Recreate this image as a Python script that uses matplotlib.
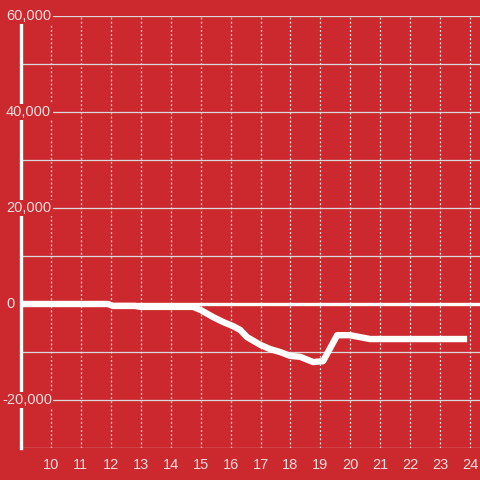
import matplotlib
matplotlib.use("Agg")
import matplotlib.pyplot as plt
import matplotlib.transforms as mtransforms

# hours of the day and value
hours = [9.0, 11.9, 12.07, 12.8, 13.0, 14.75, 15.0, 15.41, 15.75, 16.08, 16.32,
         16.55, 16.99, 17.32, 17.65, 17.99, 18.32, 18.76, 19.09, 19.56, 19.99,
         20.66, 23.9]
values = [0, 0, -400, -400, -600, -600, -1250, -2700, -3750, -4600, -5400,
          -6900, -8500, -9400, -10000, -10800, -11000, -12100, -11900, -6500,
          -6500, -7300, -7300]

x_ticks = list(range(10, 25))
y_ticks = [-20000, 0, 20000, 40000, 60000]
y_grid = list(range(-30000, 60001, 10000))

bg = '#cc292e'
plt.rcParams['font.family'] = ['Liberation Sans', 'DejaVu Sans']

fig = plt.figure(figsize=(4.8, 4.8), dpi=100, facecolor=bg)
ax = fig.add_axes([21 / 480, 32 / 480, 1 - 21 / 480, 432 / 480])
ax.set_facecolor(bg)

ax.set_xlim(9, 24.33)
ax.set_ylim(-30000, 60000)

# grid
for g in y_grid:
    ax.axhline(g, color='#d9d9d9', lw=0.9, zorder=1)
for t in x_ticks:
    ax.axvline(t, color='#e6e6e6', lw=0.9, ls=(0, (1.5, 1.8)), zorder=1)

# zero line
ax.axhline(0, color='white', lw=2.4, zorder=2)

# data line
ax.plot(hours, values, color='white', lw=4.6, solid_joinstyle='round',
        solid_capstyle='butt', zorder=4)

for s in ['top', 'right', 'bottom']:
    ax.spines[s].set_visible(False)
ax.spines['left'].set_color('white')
ax.spines['left'].set_linewidth(2.4)

ax.set_xticks(x_ticks)
ax.set_xticklabels([str(t) for t in x_ticks])
ax.tick_params(axis='x', length=0, pad=7, labelsize=10.5, colors='#f2dede')
ax.set_yticks([])

trans = mtransforms.blended_transform_factory(fig.transFigure, ax.transData)
for v in y_ticks:
    ax.text(6 / 480 if v >= 0 else 2 / 480, v, f'{v:,}',
            transform=trans, ha='left', va='center', fontsize=10.5,
            color='#f2dede', zorder=6, clip_on=False,
            bbox=dict(facecolor=bg, edgecolor='none', pad=1.0))

fig.savefig('out.png', dpi=100, facecolor=bg)
